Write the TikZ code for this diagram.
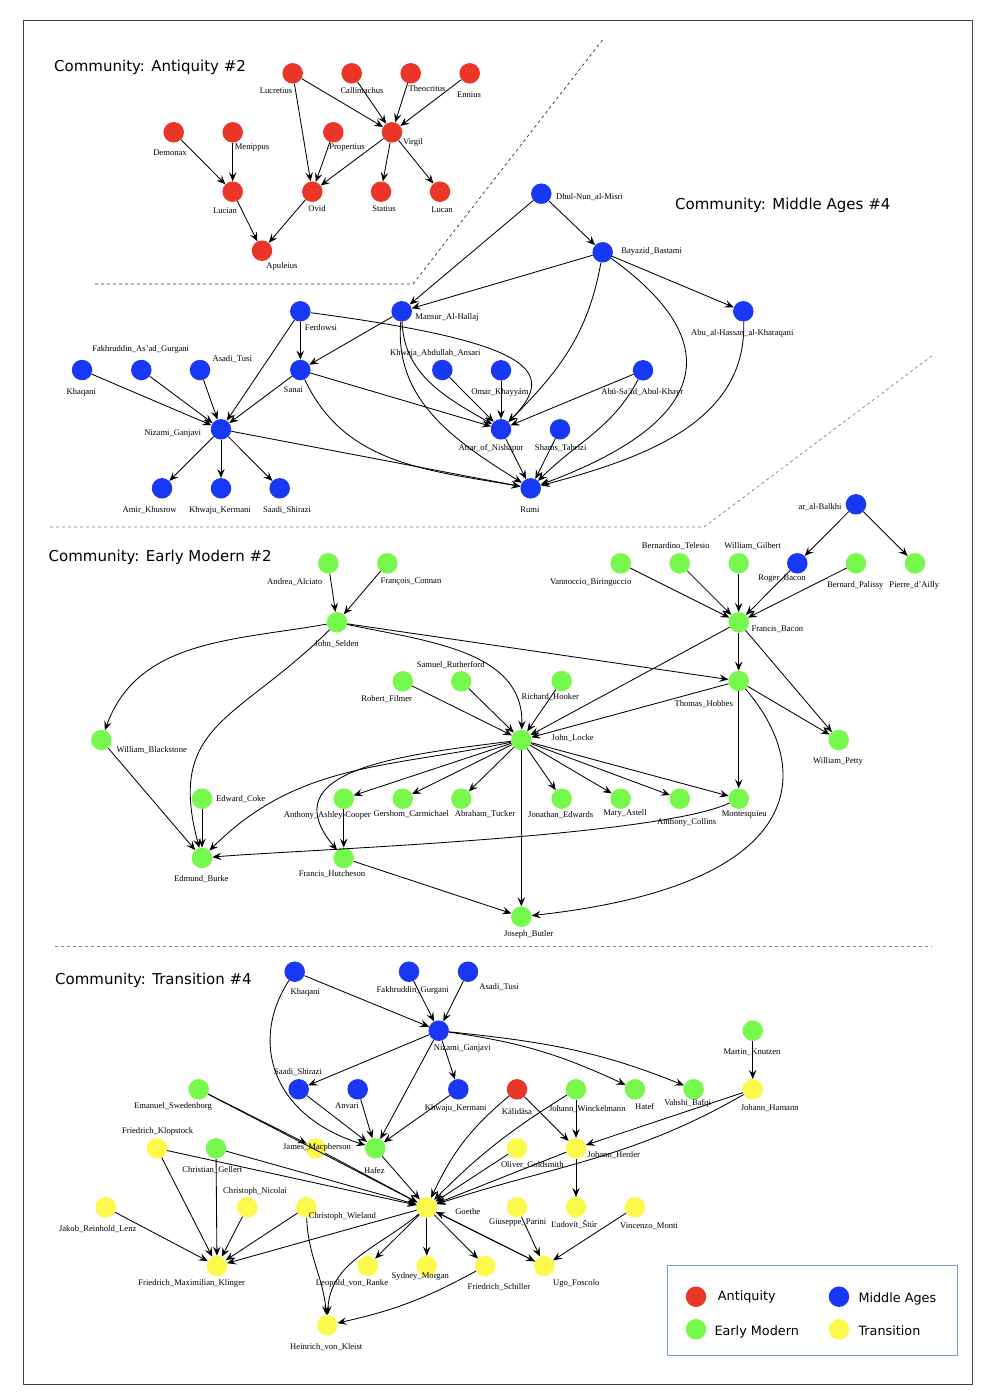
\documentclass[tikz,border=0pt]{standalone}
\usepackage{fontspec}
\setmainfont{Liberation Serif}
\newfontfamily\fuentesans{DejaVu Sans}
\usetikzlibrary{arrows.meta}

\definecolor{antiguedad}{RGB}{234,54,40}
\definecolor{medieval}{RGB}{24,56,245}
\definecolor{moderna}{RGB}{118,248,76}
\definecolor{transicion}{RGB}{252,249,76}
\definecolor{borde}{RGB}{120,155,205}

\begin{document}
\begin{tikzpicture}[
	% Propiedades generales del dibujo (1 unidad = 1 px de la referencia)
	x = 1pt, y = 1pt,
	line join = round,
	% Definición de nuevos estilos
	% 	a. persona (el argumento #1 es el color de la comunidad)
	persona/.style = {
		circle, fill = #1,
		minimum size = 20.5pt, inner sep = 0pt
	},
	% 	b. nombre de la persona
	nombre/.style = {
		font = \fontsize{8.6}{9}\selectfont,
		inner sep = 0pt
	},
	%	c. influencia
	influye/.style = {
		line width = 0.85pt,
		arrows = -{Stealth[length = 9pt, width = 7.5pt, inset = 3.5pt]}
	},
	%	d. títulos de las comunidades
	titulo/.style = {
		font = \fuentesans\fontsize{15}{18}\selectfont,
		anchor = base west, inner sep = 0pt
	},
	%	e. separadores
	corte/.style = {
		line width = 0.7pt,
		dash pattern = on 3pt off 3pt
	},
]

	% márgenes del dibujo
	\useasboundingbox (0,0) rectangle (994,-1398);
	\draw[line width = 1pt, black!75] (23,-20) rectangle (972,-1384);

	% separadores
	\draw[corte, black!80] (95,-284) -- (413,-284) -- (604,-38);
	\draw[corte, gray] (50,-527) -- (704,-527) -- (933,-355);
	\draw[corte, gray] (55,-946) -- (932,-946);

	% títulos
	\node[titulo] (tit-ant) at (54,-71) {Community: Antiquity \#2};
	\node[titulo] (tit-med) at (675,-209) {Community: Middle Ages \#4};
	\node[titulo] (tit-mod) at (48.5,-561.5) {Community: Early Modern \#2};
	\node[titulo] (tit-tra) at (55,-984) {Community: Transition \#4};

	% personas: nombre/x/y/color/x etiqueta/y etiqueta/texto
	\foreach \nm/\px/\py/\col/\lx/\ly/\txt in {
		% antigüedad
		lucretius/292.7/73.3/antiguedad/276/91/Lucretius,
		callimachus/351.7/73.3/antiguedad/362/91/Callimachus,
		theocritus/410.7/73.3/antiguedad/427/89/Theocritus,
		ennius/469.7/73.3/antiguedad/469/95/Ennius,
		virgil/392/132.3/antiguedad/413/142/Virgil,
		demonax/173.7/132.3/antiguedad/170/153/Demonax,
		menippus/232.7/132.3/antiguedad/252/148/Menippus,
		propertius/333.3/132.3/antiguedad/347/148/Propertius,
		lucian/232.7/191.7/antiguedad/225/211/Lucian,
		ovid/312.3/191.7/antiguedad/317/209/Ovid,
		statius/381/191.7/antiguedad/384/209/Statius,
		lucan/440/191.7/antiguedad/442/210/Lucan,
		apuleius/262/250.7/antiguedad/282/266/Apuleius,
		% edad media
		dhulnun/541.3/193.7/medieval/589.5/197/Dhul-Nun\_al-Misri,
		bayazid/602.7/252.3/medieval/651.7/251/Bayazid\_Bastami,
		kharaqani/743.3/311.3/medieval/742.3/333.3/Abu\_al-Hassan\_al-Kharaqani,
		hallaj/401.7/311.3/medieval/447/317.3/Mansur\_Al-Hallaj,
		ferdowsi/300.3/311.3/medieval/321/328/Ferdowsi,
		sanai/300.3/370/medieval/293.3/390/Sanai,
		khaqani/82/370/medieval/81.3/392.3/Khaqani,
		gurgani/141.3/370/medieval/140.7/349/Fakhruddin\_As'ad\_Gurgani,
		asadi/200/370/medieval/232.3/359/Asadi\_Tusi,
		nizami/221/429.3/medieval/172.7/434/Nizami\_Ganjavi,
		khusrow/162/488.3/medieval/149.7/510/Amir\_Khusrow,
		kermani/221/488.3/medieval/220/510/Khwaju\_Kermani,
		saadi/279.7/488.3/medieval/287/510/Saadi\_Shirazi,
		ansari/442.3/370/medieval/435.3/353.3/Khwaja\_Abdullah\_Ansari,
		khayyam/501/370.3/medieval/500/392.3/Omar\_Khayyám,
		abusaid/643/370.3/medieval/642.3/392.3/Abū-Sa'īd\_Abul-Khayr,
		attar/501/429.3/medieval/491/448.3/Attar\_of\_Nishapur,
		shams/560/429.3/medieval/560.7/448.3/Shams\_Tabrizi,
		rumi/530.7/488.3/medieval/530/510/Rumi,
		balkhi/856/504.3/medieval/820/507.3/ar\_al-Balkhi,
		% edad moderna temprana
		alciato/328.3/563.3/moderna/294.7/582/Andrea\_Alciato,
		connan/387.3/563.3/moderna/411/582/François\_Connan,
		selden/337/622.3/moderna/336.7/644.3/John\_Selden,
		filmer/402.7/681.3/moderna/386.7/699/Robert\_Filmer,
		rutherford/461.3/681.3/moderna/450.7/665/Samuel\_Rutherford,
		blackstone/101.3/740/moderna/151.7/750/William\_Blackstone,
		biringuccio/620.7/563.3/moderna/590.7/583/Vannoccio\_Biringuccio,
		telesio/679.7/563.3/moderna/675.7/546/Bernardino\_Telesio,
		gilbert/738.7/563.3/moderna/752.7/546/William\_Gilbert,
		rbacon/797.3/563.3/medieval/782/578.3/Roger\_Bacon,
		palissy/856/563.3/moderna/855.3/585.3/Bernard\_Palissy,
		ailly/915/563.3/moderna/914.3/585.3/Pierre\_d'Ailly,
		fbacon/738.7/622.3/moderna/777.3/629/Francis\_Bacon,
		hobbes/738.7/681/moderna/703.7/704/Thomas\_Hobbes,
		hooker/561.7/681/moderna/550.3/697/Richard\_Hooker,
		locke/521.3/740/moderna/572.7/738/John\_Locke,
		petty/838.7/740/moderna/838/761/William\_Petty,
		coke/202/798.7/moderna/240.7/799/Edward\_Coke,
		cooper/343.7/798.7/moderna/327.3/815.3/Anthony\_Ashley-Cooper,
		carmichael/402.7/798.7/moderna/411.3/814/Gershom\_Carmichael,
		tucker/461.3/798.7/moderna/485/814/Abraham\_Tucker,
		edwards/561.7/798.7/moderna/560.7/814.7/Jonathan\_Edwards,
		astell/620.7/798.7/moderna/625/813.3/Mary\_Astell,
		collins/679.7/798.7/moderna/686.7/822.7/Anthony\_Collins,
		montesquieu/738.7/798.7/moderna/744.3/814.7/Montesquieu,
		burke/202/858/moderna/201.3/879/Edmund\_Burke,
		hutcheson/343.7/858/moderna/332/874/Francis\_Hutcheson,
		butler/521.3/916.7/moderna/528.7/934.7/Joseph\_Butler,
		% transición
		t-khaqani/294.7/971.7/medieval/305.3/992.7/Khaqani,
		t-gurgani/409/971.7/medieval/412.7/990/Fakhruddin\_Gurgani,
		t-asadi/468/971.7/medieval/499/987/Asadi\_Tusi,
		t-nizami/438.7/1030.7/medieval/462.3/1049/Nizami\_Ganjavi,
		t-saadi/298.7/1089.3/medieval/298/1072.3/Saadi\_Shirazi,
		anvari/357.7/1089.3/medieval/347/1106/Anvari,
		t-kermani/458.3/1089.3/medieval/455.7/1108/Khwaju\_Kermani,
		swedenborg/198.7/1089.3/moderna/173/1106/Emanuel\_Swedenborg,
		klopstock/157/1148.3/transicion/157.7/1131.3/Friedrich\_Klopstock,
		gellert/216/1148.3/moderna/212.3/1170/Christian\_Gellert,
		macpherson/316/1148.3/transicion/317/1147.3/James\_Macpherson,
		hafez/375.3/1148.3/moderna/374.3/1170/Hafez,
		kalidasa/517/1089.3/antiguedad/517/1111.3/Kālidāsa,
		winckelmann/576/1089.3/moderna/587.3/1109/Johann\_Winckelmann,
		hatef/635/1089.3/moderna/644.7/1106/Hatef,
		bafqi/693.7/1089.3/moderna/687.7/1103.3/Vahshi\_Bafqi,
		knutzen/752.7/1030.7/moderna/752/1052/Martin\_Knutzen,
		hamann/752.7/1089.3/transicion/769.7/1108/Johann\_Hamann,
		goldsmith/517/1148.3/transicion/532.3/1164.7/Oliver\_Goldsmith,
		herder/576/1148.3/transicion/613.7/1155/Johann\_Herder,
		lenz/105.7/1207.3/transicion/97.7/1229.3/Jakob\_Reinhold\_Lenz,
		nicolai/247.3/1207.3/transicion/255/1191.3/Christoph\_Nicolai,
		wieland/306.3/1207.3/transicion/342.3/1216/Christoph\_Wieland,
		goethe/426.7/1207.3/transicion/467.7/1211.3/Goethe,
		parini/517/1207.3/transicion/517.7/1222.3/Giuseppe\_Parini,
		stur/576/1207.3/transicion/574/1224/Ľudovít\_Štúr,
		monti/635/1207.3/transicion/649/1226/Vincenzo\_Monti,
		klinger/217/1266/transicion/191.7/1283.3/Friedrich\_Maximilian\_Klinger,
		ranke/367.7/1266/transicion/352/1283.3/Leopold\_von\_Ranke,
		morgan/426.7/1266/transicion/420.3/1276.7/Sydney\_Morgan,
		schiller/485.3/1266/transicion/499/1287/Friedrich\_Schiller,
		foscolo/544.3/1266/transicion/576.3/1283/Ugo\_Foscolo,
		kleist/327.3/1325.3/transicion/326.3/1347/Heinrich\_von\_Kleist%
	}{
		\node[persona = \col] (\nm) at (\px,-\py) {};
		\node[nombre] (\nm-l) at (\lx,-\ly) {\txt};
	}

	% influencias rectas
	\foreach \a/\b in {
		% antigüedad
		lucretius/virgil, lucretius/ovid, callimachus/virgil,
		theocritus/virgil, ennius/virgil, demonax/lucian,
		menippus/lucian, propertius/ovid, virgil/ovid,
		virgil/statius, virgil/lucan, lucian/apuleius, ovid/apuleius,
		% edad media
		dhulnun/hallaj, dhulnun/bayazid, bayazid/hallaj,
		bayazid/kharaqani, abusaid/attar, khayyam/attar,
		ansari/attar, shams/rumi, attar/rumi, ferdowsi/sanai,
		ferdowsi/nizami, hallaj/sanai, sanai/attar, nizami/rumi,
		khaqani/nizami, gurgani/nizami, asadi/nizami, sanai/nizami,
		nizami/khusrow, nizami/kermani, nizami/saadi,
		% edad moderna temprana
		alciato/selden, connan/selden, selden/hobbes,
		biringuccio/fbacon, telesio/fbacon, gilbert/fbacon,
		rbacon/fbacon, palissy/fbacon, balkhi/rbacon, balkhi/ailly,
		fbacon/hobbes, fbacon/locke, fbacon/petty,
		hobbes/locke, hobbes/petty, hobbes/montesquieu,
		filmer/locke, rutherford/locke, hooker/locke,
		locke/cooper, locke/carmichael, locke/tucker, locke/edwards,
		locke/astell, locke/collins, locke/montesquieu, locke/butler,
		blackstone/burke, coke/burke, cooper/hutcheson,
		hutcheson/butler,
		% transición
		t-khaqani/t-nizami, t-gurgani/t-nizami, t-asadi/t-nizami,
		t-nizami/t-saadi, t-nizami/t-kermani, t-nizami/hafez,
		t-saadi/hafez, anvari/hafez, t-kermani/hafez,
		swedenborg/macpherson, swedenborg/goethe,
		klopstock/goethe, klopstock/klinger,
		gellert/goethe, gellert/klinger, macpherson/goethe,
		hafez/goethe, kalidasa/herder, winckelmann/herder,
		knutzen/hamann, hamann/herder, goldsmith/goethe,
		herder/goethe, herder/stur, lenz/klinger, nicolai/klinger,
		wieland/klinger, goethe/klinger, goethe/ranke, goethe/morgan,
		goethe/schiller, goethe/foscolo, foscolo/goethe,
		parini/foscolo, monti/foscolo%
	}{
		\draw[influye] (\a) -- (\b);
	}

	% influencias curvas: edad media
	\draw[influye] (bayazid) to[out = -100, in = 45] (attar);
	\draw[influye] (bayazid) .. controls (725,-340) and (715,-420) .. (rumi);
	\draw[influye] (kharaqani) to[out = -88, in = 15] (rumi);
	\draw[influye] (abusaid) to[out = -118, in = 45] (rumi);
	\draw[influye] (hallaj) to[out = -88, in = 150] (attar);
	\draw[influye] (hallaj) to[out = -95, in = 148] (rumi);
	\draw[influye] (ferdowsi) .. controls (530,-342) and (560,-370) .. (attar);
	\draw[influye] (sanai) to[out = -65, in = 170] (rumi);

	% influencias curvas: edad moderna temprana
	\draw[influye] (selden) to[out = 190, in = 70] (blackstone);
	\draw[influye] (selden) to[out = -135, in = 105, looseness = 1.3] (burke);
	\draw[influye] (selden) to[out = -12, in = 88] (locke);
	\draw[influye] (hobbes) .. controls (815,-770) and (810,-885) .. (butler);
	\draw[influye] (locke) to[out = 192, in = 45] (burke);
	\draw[influye] (locke) .. controls (400,-755) and (270,-770) .. (hutcheson);
	\draw[influye] (montesquieu) to[out = 205, in = 5, looseness = 0.4] (burke);

	% influencias curvas: transición
	\draw[influye] (t-khaqani) .. controls (250,-1040) and (270,-1115) .. (hafez);
	\draw[influye] (t-nizami) to[out = -8, in = 155] (hatef);
	\draw[influye] (t-nizami) to[out = -6, in = 158] (bafqi);
	\draw[influye] (kalidasa) to[out = -140, in = 65] (goethe);
	\draw[influye] (winckelmann) to[out = -148, in = 45] (goethe);
	\draw[influye] (hamann) to[out = -150, in = 18] (goethe);
	\draw[influye] (wieland) to[out = -88, in = 95] (kleist);
	\draw[influye] (goethe) to[out = -140, in = 88] (kleist);
	\draw[influye] (schiller) to[bend left = 8] (kleist);

	% leyenda
	\draw[borde, line width = 0.8pt] (667.3,-1265.7) rectangle (957.7,-1355);
	\begin{scope}[font = \fuentesans\fontsize{12.8}{15}\selectfont]
		\node[persona = antiguedad] (ley-a) at (696,-1296.7) {};
		\node[persona = medieval] (ley-m) at (839,-1296.7) {};
		\node[persona = moderna] (ley-e) at (696,-1329.3) {};
		\node[persona = transicion] (ley-t) at (839,-1329.3) {};
		\node[anchor = base west, inner sep = 0pt] (ley-a-l) at (717.7,-1300.7) {Antiquity};
		\node[anchor = base west, inner sep = 0pt] (ley-m-l) at (858.3,-1302) {Middle Ages};
		\node[anchor = base west, inner sep = 0pt] (ley-e-l) at (714.3,-1335.5) {Early Modern};
		\node[anchor = base west, inner sep = 0pt] (ley-t-l) at (858.3,-1335.5) {Transition};
	\end{scope}

\end{tikzpicture}
\end{document}
